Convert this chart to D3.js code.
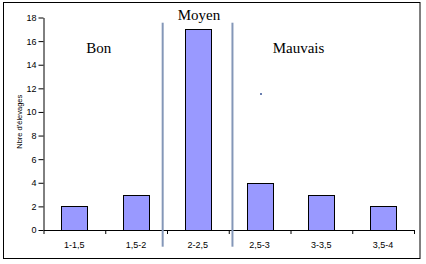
<!DOCTYPE html>
<html>
<head>
<meta charset="utf-8">
<script src="https://cdn.jsdelivr.net/npm/d3@7"></script>
<style>
  body { margin: 0; background: #fff; }
  svg { display: block; }
</style>
</head>
<body>
<svg id="chart"></svg>
<script>
const categories = ["1-1,5", "1,5-2", "2-2,5", "2,5-3", "3-3,5", "3,5-4"];
const counts = [2, 3, 17, 4, 3, 2];
const yTicks = [0, 2, 4, 6, 8, 10, 12, 14, 16, 18];
// zones: label, position in category units, value height of the label
const zones = [
  {name: "Bon", at: 0.894, v: 15.0},
  {name: "Moyen", at: 2.518, v: 17.83},
  {name: "Mauvais", at: 4.13, v: 15.0}
];
const separators = [1.93, 3.06];

const width = 426, height = 264;
const margin = {top: 17.5, left: 43.5, bottom: 34, right: 12};
const sans = "'Liberation Sans', Arial, sans-serif";
const serif = "'Liberation Serif', 'Times New Roman', serif";

const svg = d3.select("#chart").attr("width", width).attr("height", height);

svg.append("rect")
  .attr("x", 3.5).attr("y", 2.5)
  .attr("width", 416.5).attr("height", 256)
  .attr("fill", "#fff").attr("stroke", "#000").attr("stroke-width", 1);

const x = d3.scaleBand()
  .domain(categories)
  .range([margin.left, width - margin.right]);
const xl = d3.scaleLinear()
  .domain([0, categories.length])
  .range([margin.left, width - margin.right]);
const y = d3.scaleLinear()
  .domain([0, 18])
  .range([height - margin.bottom, margin.top]);

const barW = x.bandwidth() * 0.42;

svg.selectAll("rect.bar").data(counts).enter().append("rect")
  .attr("class", "bar")
  .attr("x", (d, i) => Math.round(x(categories[i]) + x.bandwidth() / 2 - barW / 2) + 0.5)
  .attr("y", d => Math.round(y(d)) + 0.5)
  .attr("width", Math.round(barW))
  .attr("height", d => Math.round(y(0)) - Math.round(y(d)))
  .attr("fill", "#9999ff")
  .attr("stroke", "#000")
  .attr("stroke-width", 1);

// y axis
const yAxis = svg.append("g")
  .attr("transform", `translate(${margin.left},0)`)
  .call(d3.axisLeft(y).tickValues(yTicks).tickSize(5).tickSizeOuter(0).tickPadding(2));
yAxis.selectAll("text")
  .style("font-family", sans)
  .style("font-size", "9px")
  .attr("fill", "#000");

// x axis: ticks between categories
svg.append("g")
  .attr("transform", `translate(0,${y(0)})`)
  .call(d3.axisBottom(xl).tickValues(d3.range(categories.length + 1)).tickSize(4).tickSizeOuter(0).tickFormat(""));
svg.selectAll(".domain, .tick line").attr("stroke", "#000");

svg.selectAll("text.cat").data(categories).enter().append("text")
  .attr("class", "cat")
  .attr("x", d => x(d) + x.bandwidth() / 2)
  .attr("y", y(0) + 18)
  .attr("text-anchor", "middle")
  .style("font-family", sans)
  .style("font-size", "9px")
  .text(d => d);

// y label
svg.append("text")
  .attr("transform", `translate(22,${(y(0) + y(18)) / 2 - 2}) rotate(-90)`)
  .attr("text-anchor", "middle")
  .style("font-family", sans)
  .style("font-size", "7.5px")
  .text("Nbre d'élevages");

// zone separators
svg.selectAll("line.sep").data(separators).enter().append("line")
  .attr("class", "sep")
  .attr("x1", d => xl(d)).attr("x2", d => xl(d))
  .attr("y1", 22.7).attr("y2", 246.7)
  .attr("stroke", "#8497b8")
  .attr("stroke-width", 2);

svg.selectAll("text.zone").data(zones).enter().append("text")
  .attr("class", "zone")
  .attr("x", d => xl(d.at))
  .attr("y", d => y(d.v))
  .attr("text-anchor", "middle")
  .style("font-family", serif)
  .style("font-size", "15px")
  .text(d => d.name);

// stray dot
svg.append("rect")
  .attr("x", 260).attr("y", 93)
  .attr("width", 2).attr("height", 2)
  .attr("fill", "#6a7fb0");
</script>
</body>
</html>
